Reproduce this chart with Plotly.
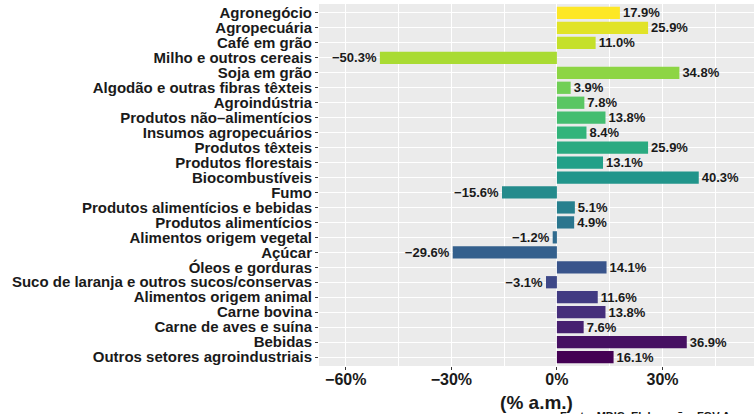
import plotly.graph_objects as go
from plotly.colors import sample_colorscale

# setores, de cima para baixo
setores = [
    "Agronegócio", "Agropecuária", "Café em grão", "Milho e outros cereais",
    "Soja em grão", "Algodão e outras fibras têxteis", "Agroindústria",
    "Produtos não\u2013alimentícios", "Insumos agropecuários", "Produtos têxteis",
    "Produtos florestais", "Biocombustíveis", "Fumo",
    "Produtos alimentícios e bebidas", "Produtos alimentícios",
    "Alimentos origem vegetal", "Açúcar", "Óleos e gorduras",
    "Suco de laranja e outros sucos/conservas", "Alimentos origem animal",
    "Carne bovina", "Carne de aves e suína", "Bebidas",
    "Outros setores agroindustriais",
]
variacao = [17.9, 25.9, 11.0, -50.3, 34.8, 3.9, 7.8, 13.8, 8.4, 25.9, 13.1,
            40.3, -15.6, 5.1, 4.9, -1.2, -29.6, 14.1, -3.1, 11.6, 13.8, 7.6,
            36.9, 16.1]
x_ticks = [-60, -30, 0, 30]
x_ticklabels = ["\u221260%", "\u221230%", "0%", "30%"]

n = len(setores)
cores = sample_colorscale("Viridis", [1 - i / (n - 1) for i in range(n)])
rotulos = [f"{v:.1f}%".replace("-", "\u2212") for v in variacao]

FONT = "Liberation Sans"

fig = go.Figure()
fig.add_trace(go.Bar(
    x=variacao,
    y=setores,
    orientation="h",
    marker=dict(color=cores, line=dict(width=0)),
    text=rotulos,
    textposition="outside",
    constraintext="none",
    cliponaxis=False,
    textfont=dict(family=FONT, size=13, color="#1a1a1a", weight="bold"),
    hovertemplate="%{y}: %{x:.1f}%<extra></extra>",
))

fig.update_layout(
    width=754, height=414,
    margin=dict(l=319, r=0, t=4, b=48, autoexpand=False),
    paper_bgcolor="white",
    plot_bgcolor="#EBEBEB",
    showlegend=False,
    bargap=0.18,
    font=dict(family=FONT, color="#1a1a1a"),
    xaxis=dict(
        range=[-67.6, 56.0],
        tickvals=x_ticks, ticktext=x_ticklabels,
        tickfont=dict(family=FONT, size=16, color="#1a1a1a", weight="bold"),
        ticklabelstandoff=-4,
        showgrid=True, gridcolor="white", gridwidth=1.3,
        minor=dict(tickvals=[-45, -15, 15, 45], showgrid=True,
                   gridcolor="white", gridwidth=0.6),
        ticks="outside", ticklen=3, tickcolor="#333333",
        zeroline=False, showline=False, automargin=False,
        title=dict(text="(% a.m.)", standoff=8,
                   font=dict(family=FONT, size=19, color="#1a1a1a", weight="bold")),
    ),
    yaxis=dict(
        categoryorder="array", categoryarray=setores[::-1],
        tickmode="array", tickvals=setores, ticktext=setores,
        tickfont=dict(family=FONT, size=15, color="#1a1a1a", weight="bold"),
        showgrid=True, gridcolor="white", gridwidth=1.3,
        ticks="outside", ticklen=3, tickcolor="#333333",
        zeroline=False, showline=False, automargin=False,
        range=[-0.6, n - 0.4],
    ),
)

fig.add_annotation(
    text="Fonte: MDIC. Elaboração: FGV Agro",
    xref="paper", yref="paper", x=0.55, y=-0.115,
    xanchor="left", yanchor="top", showarrow=False,
    font=dict(family=FONT, size=11, color="#1a1a1a", weight="bold"),
)

fig.write_html("out.html", config={"displayModeBar": False},
               post_script="document.body.style.margin='0';")
